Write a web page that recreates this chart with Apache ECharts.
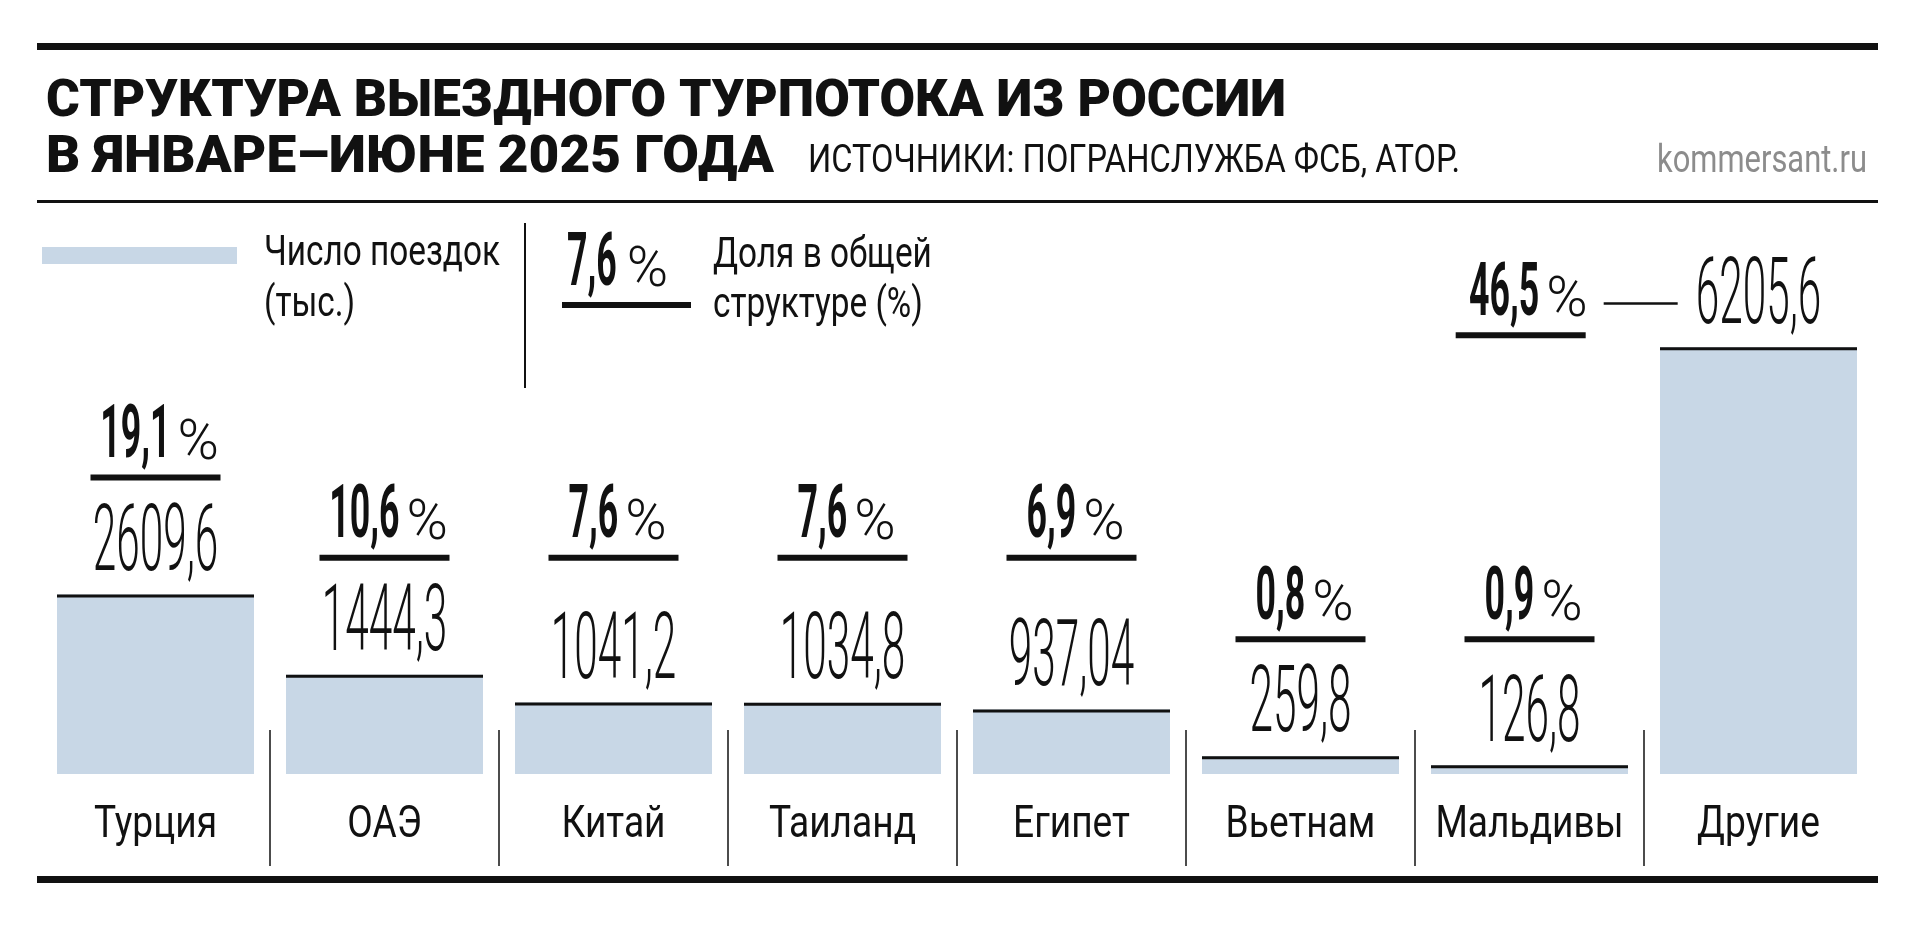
<!DOCTYPE html>
<html>
<head>
<meta charset="utf-8">
<script src="https://cdn.jsdelivr.net/npm/echarts@6/dist/echarts.min.js"></script>
<style>
html,body{margin:0;padding:0;background:#ffffff;}
#chart{width:1920px;height:925px;}
</style>
</head>
<body>
<div id="chart"></div>
<script>
// ---- data ----
const categories = ['Турция', 'ОАЭ', 'Китай', 'Таиланд', 'Египет', 'Вьетнам', 'Мальдивы', 'Другие'];
const trips = [2609.6, 1444.3, 1041.2, 1034.8, 937.04, 259.8, 126.8, 6205.6];   // тыс. поездок
const shares = [19.1, 10.6, 7.6, 7.6, 6.9, 0.8, 0.9, 46.5];                     // %
const titleLines = ['СТРУКТУРА ВЫЕЗДНОГО ТУРПОТОКА ИЗ РОССИИ', 'В ЯНВАРЕ–ИЮНЕ 2025 ГОДА'];
const sourceText = 'ИСТОЧНИКИ: ПОГРАНСЛУЖБА ФСБ, АТОР.';
const brandText = 'kommersant.ru';
const legendBarText = ['Число поездок', '(тыс.)'];
const legendPctText = ['Доля в общей', 'структуре (%)'];
const legendPctSample = '7,6';

// ---- style ----
const INK = '#111111', BAR = '#c8d7e6', GREY = '#8c8c8c';
const FF = 'Roboto, "Noto Sans", "DejaVu Sans", sans-serif';
const font = (w, s) => w + ' ' + s + 'px ' + FF;
const TITLE_FONT = font(900, 51);
const COND_FONT = font(400, 42);
const CAT_FONT = font(400, 45);
const SRC_FONT = font(400, 38);
const BRAND_FONT = font(400, 38);
const VAL_FONT = font(300, 93);
const PCT_FONT = font(700, 74);
const SIGN_FONT = font(300, 56);
const BAR_W = 197;

const mctx = document.createElement('canvas').getContext('2d');
function tw(text, f) { mctx.font = f; return mctx.measureText(text).width; }
const fmt = v => String(v).replace('.', ',');

const titleScale = 1240 / tw(titleLines[0], TITLE_FONT);
const condScale = 236 / tw(legendBarText[0], COND_FONT);
const catScale = condScale * 1.04;
const srcScale = 652 / tw(sourceText, SRC_FONT);
const brandScale = 210 / tw(brandText, BRAND_FONT);
const valScale = 23.5 / tw('0', VAL_FONT);
const pctScale = 20.5 / tw('0', PCT_FONT);
const signW = tw('%', SIGN_FONT);
const PCT_GAP = 7;

// percentage labels of neighbouring bars with close heights share one line
const leaderVals = [];
(function () {
  let lead = null;
  trips.forEach(v => {
    if (lead === null || v > lead || lead - v > 600) lead = v;
    leaderVals.push(lead);
  });
})();
const maxTrip = Math.max.apply(null, trips);

function txt(text, x, y, f, sx, align, fill) {
  return {
    type: 'text', x: x, y: y, scaleX: sx,
    style: { text: text, x: 0, y: 0, font: f, fill: fill, align: align, verticalAlign: 'middle' }
  };
}
function box(x, y, w, h, fill) {
  return { type: 'rect', shape: { x: x, y: y, width: w, height: h }, style: { fill: fill } };
}
// bold share figure + light "%" ending at blockRight, sitting on an underline at ulTop
function shareBlock(str, blockRight, ulX, ulTop) {
  const dW = tw(str, PCT_FONT) * pctScale;
  return [
    box(ulX, ulTop, 130, 6, INK),
    txt(str, blockRight - signW - PCT_GAP - dW, ulTop - 36, PCT_FONT, pctScale, 'left', INK),
    txt('%', blockRight - signW, ulTop - 30, SIGN_FONT, 1, 'left', INK)
  ];
}

function renderItem(params, api) {
  const i = api.value(0), v = api.value(1), p = api.value(2);
  const top = api.coord([i, v]);
  const base = api.coord([i, 0]);
  const band = api.size([1, 0])[0];
  const cx = top[0];
  let kids = [];
  // black cap on top of bar
  kids.push(box(cx - BAR_W / 2, top[1], BAR_W, 3, INK));
  // value label
  const vStr = fmt(v);
  const vW = tw(vStr, VAL_FONT) * valScale;
  const vMid = top[1] - 48;
  kids.push(txt(vStr, cx, vMid, VAL_FONT, valScale, 'center', INK));
  // share block
  const pStr = fmt(p);
  const dW = tw(pStr, PCT_FONT) * pctScale;
  if (v === maxTrip) {
    const vLeft = cx - vW / 2;
    kids.push(box(vLeft - 92, vMid + 3, 74, 2.5, INK));
    kids = kids.concat(shareBlock(pStr, vLeft - 108, vLeft - 240, top[1] - 15));
  } else {
    const lt = api.coord([i, leaderVals[i]])[1];
    kids = kids.concat(shareBlock(pStr, cx + 4 + (dW + PCT_GAP + signW) / 2, cx - 65, lt - 120));
  }
  // category name
  kids.push(txt(categories[i], cx, base[1] + 52, CAT_FONT, catScale, 'center', INK));
  // separator
  if (i > 0) kids.push(box(cx - band / 2 - 0.75, base[1] - 44, 1.5, 136, INK));
  return { type: 'group', children: kids };
}

const lgDigW = tw(legendPctSample, PCT_FONT) * pctScale;

const graphic = [
  box(37, 43, 1841, 7, INK),
  txt(titleLines[0], 46, 103, TITLE_FONT, titleScale, 'left', INK),
  txt(titleLines[1], 46, 159, TITLE_FONT, titleScale * 1.03, 'left', INK),
  txt(sourceText, 808, 162, SRC_FONT, srcScale, 'left', INK),
  txt(brandText, 1867, 162, BRAND_FONT, brandScale, 'right', GREY),
  box(37, 200, 1841, 3, INK),
  box(42, 247, 195, 17, BAR),
  txt(legendBarText[0], 264, 254, COND_FONT, condScale, 'left', INK),
  txt(legendBarText[1], 264, 305, COND_FONT, condScale, 'left', INK),
  box(524, 223, 2, 165, INK),
  box(562, 302, 129, 6, INK),
  txt(legendPctSample, 567, 302 - 36, PCT_FONT, pctScale, 'left', INK),
  txt('%', 567 + lgDigW + PCT_GAP + 3, 302 - 30, SIGN_FONT, 1, 'left', INK),
  txt(legendPctText[0], 713, 256, COND_FONT, condScale, 'left', INK),
  txt(legendPctText[1], 713, 306, COND_FONT, condScale, 'left', INK),
  box(37, 876, 1841, 7, INK)
];

const chart = echarts.init(document.getElementById('chart'), null, { renderer: 'canvas' });
chart.setOption({
  animation: false,
  backgroundColor: '#ffffff',
  grid: { left: 41, right: 47, top: 224, bottom: 151, containLabel: false },
  xAxis: {
    type: 'category', data: categories,
    axisLine: { show: false }, axisTick: { show: false }, axisLabel: { show: false }, splitLine: { show: false }
  },
  yAxis: { type: 'value', min: 0, max: 8000, show: false },
  series: [
    { type: 'bar', data: trips, barWidth: BAR_W, itemStyle: { color: BAR }, silent: true },
    {
      type: 'custom', data: categories.map((c, i) => [i, trips[i], shares[i]]),
      encode: { x: 0, y: 1 }, renderItem: renderItem, clip: false, silent: true, z: 5
    }
  ],
  graphic: graphic
});
</script>
</body>
</html>
